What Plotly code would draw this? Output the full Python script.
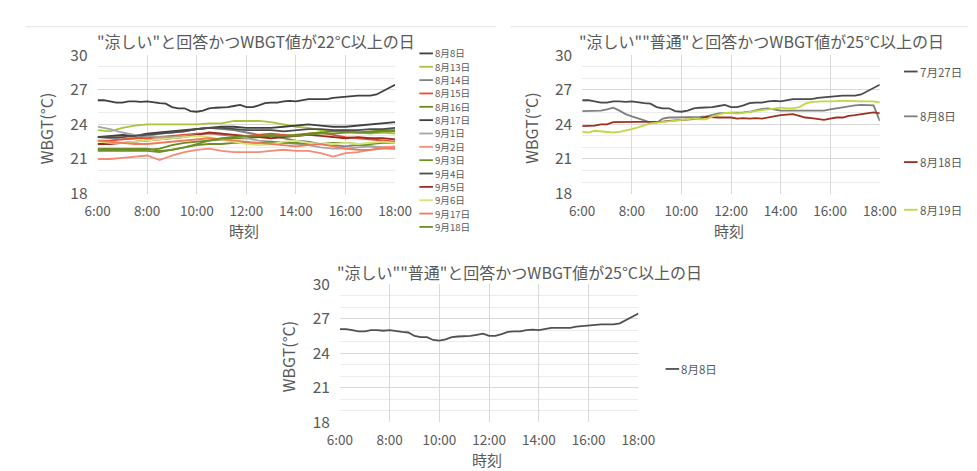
import plotly.graph_objects as go

W, H = 977, 471
FONT = "Noto Sans CJK JP"
TXT = "#595959"

# time grids (hours)
TIMES_15 = [6 + 0.25 * i for i in range(49)]
TIMES_30 = [6 + 0.5 * i for i in range(25)]
X_TICK_VALS = [6, 8, 10, 12, 14, 16, 18]
X_TICK_LABELS = ["6:00", "8:00", "10:00", "12:00", "14:00", "16:00", "18:00"]
Y_TICK_VALS = [18, 21, 24, 27, 30]

TITLE_1 = '"涼しい"と回答かつWBGT値が22°C以上の日'
TITLE_2 = '"涼しい""普通"と回答かつWBGT値が25°C以上の日'
TITLE_3 = '"涼しい""普通"と回答かつWBGT値が25°C以上の日'
Y_TITLE = "WBGT(°C)"
X_TITLE = "時刻"

# ---- 15-minute series ----
WBGT_0808 = [26.1, 26.1, 26.0, 25.9, 25.9, 26.0, 26.0, 25.95, 26.0, 25.9, 25.85, 25.8,
             25.5, 25.4, 25.4, 25.15, 25.1, 25.2, 25.4, 25.45, 25.45, 25.5, 25.6, 25.7,
             25.5, 25.5, 25.65, 25.85, 25.9, 25.9, 26.0, 26.05, 26.0, 26.1, 26.2, 26.2,
             26.2, 26.2, 26.3, 26.35, 26.45, 26.5, 26.5, 26.5, 26.5, 26.6, 26.9, 27.2, 27.45]

C2_0727 = WBGT_0808
C2_0808 = [25.15, 25.15, 25.15, 25.2, 25.3, 25.45, 25.2, 24.9, 24.7, 24.55, 24.35, 24.15,
           24.15, 24.5, 24.6, 24.6, 24.6, 24.6, 24.6, 24.65, 24.7, 24.85, 24.95, 25.0,
           25.0, 25.0, 25.05, 25.1, 25.25, 25.35, 25.4, 25.3, 25.2, 25.2, 25.2, 25.2,
           25.2, 25.2, 25.2, 25.2, 25.3, 25.4, 25.5, 25.6, 25.65, 25.7, 25.7, 25.65, 24.3]
C2_0818 = [23.85, 23.85, 23.9, 24.0, 24.0, 24.2, 24.2, 24.2, 24.25, 24.25, 24.2, 24.2,
           24.25, 24.25, 24.3, 24.35, 24.4, 24.45, 24.5, 24.5, 24.65, 24.6, 24.6, 24.6,
           24.6, 24.5, 24.55, 24.5, 24.55, 24.5, 24.6, 24.75, 24.8, 24.85, 24.9, 24.75,
           24.6, 24.55, 24.45, 24.4, 24.5, 24.6, 24.6, 24.75, 24.8, 24.9, 25.0, 25.05, 24.95]
C2_0819 = [23.35, 23.3, 23.45, 23.4, 23.35, 23.3, 23.35, 23.45, 23.6, 23.75, 23.9, 24.1,
           24.15, 24.2, 24.3, 24.35, 24.4, 24.45, 24.5, 24.45, 24.45, 24.7, 24.85, 25.0,
           25.0, 24.95, 25.0, 25.1, 25.15, 25.25, 25.3, 25.35, 25.45, 25.4, 25.4, 25.5,
           25.8, 25.95, 26.0, 26.0, 26.0, 26.05, 26.05, 26.05, 26.0, 26.0, 26.0, 26.0, 25.9]

# ---- 30-minute series (chart 1) ----
C1_0813 = [23.5, 23.4, 23.7, 23.9, 24.0, 24.0, 24.0, 24.0, 24.0, 24.1, 24.1, 24.3, 24.3,
           24.3, 24.2, 24.0, 23.8, 23.7, 23.5, 23.4, 23.5, 23.3, 23.2, 23.3, 23.2]
C1_0814 = [22.9, 22.8, 22.7, 22.8, 23.0, 23.2, 23.3, 23.4, 23.6, 23.7, 23.6, 23.5, 23.3,
           23.1, 23.0, 22.8, 22.6, 22.5, 22.3, 22.2, 22.1, 22.2, 22.1, 22.0, 21.9]
C1_0815 = [22.6, 22.6, 22.7, 22.8, 22.8, 22.9, 23.0, 23.1, 23.2, 23.2, 23.1, 23.0, 23.0,
           23.1, 23.2, 23.1, 23.0, 23.2, 23.3, 23.1, 22.9, 22.8, 22.7, 22.6, 22.5]
C1_0816 = [21.8, 21.8, 21.8, 21.8, 21.8, 21.9, 22.2, 22.4, 22.5, 22.6, 22.7, 22.8, 22.8,
           22.9, 23.0, 23.0, 23.1, 23.2, 23.3, 23.4, 23.4, 23.3, 23.4, 23.5, 23.5]
C1_0817 = [22.9, 23.0, 23.1, 23.0, 23.2, 23.3, 23.4, 23.5, 23.6, 23.7, 23.8, 23.8, 23.7,
           23.7, 23.7, 23.8, 23.9, 24.0, 23.9, 23.8, 23.8, 23.9, 24.0, 24.1, 24.2]
C1_0901 = [23.8, 23.6, 23.3, 23.1, 23.0, 22.9, 22.9, 23.0, 23.1, 23.2, 23.2, 23.0, 22.8,
           22.6, 22.5, 22.4, 22.3, 22.2, 22.0, 21.9, 21.9, 22.0, 22.1, 22.0, 22.0]
C1_0902 = [21.0, 21.0, 21.1, 21.2, 21.3, 20.9, 21.3, 21.6, 21.8, 21.9, 21.7, 21.6, 21.6,
           21.6, 21.7, 21.8, 21.7, 21.7, 21.5, 21.2, 21.5, 21.6, 21.8, 22.0, 22.1]
C1_0903 = [21.9, 21.9, 21.9, 21.9, 21.9, 21.7, 21.8, 22.0, 22.2, 22.3, 22.3, 22.4, 22.4,
           22.4, 22.5, 22.4, 22.4, 22.3, 22.3, 22.4, 22.4, 22.3, 22.3, 22.4, 22.4]
C1_0904 = [22.9, 22.9, 22.9, 23.0, 23.1, 23.2, 23.3, 23.4, 23.6, 23.7, 23.7, 23.6, 23.5,
           23.5, 23.5, 23.4, 23.5, 23.6, 23.6, 23.5, 23.5, 23.5, 23.6, 23.6, 23.7]
C1_0905 = [22.3, 22.3, 22.4, 22.5, 22.6, 22.7, 22.8, 22.9, 23.1, 23.3, 23.2, 23.1, 23.0,
           22.9, 22.8, 22.9, 23.0, 23.1, 23.0, 22.9, 22.8, 22.9, 22.8, 22.8, 22.7]
C1_0906 = [22.5, 22.4, 22.4, 22.5, 22.6, 22.7, 22.8, 22.9, 23.0, 22.9, 22.7, 22.5, 22.3,
           22.2, 22.3, 22.5, 22.6, 22.4, 22.3, 22.3, 22.4, 22.3, 22.4, 22.5, 22.4]
C1_0917 = [22.6, 22.5, 22.4, 22.3, 22.3, 22.4, 22.5, 22.6, 22.7, 22.8, 22.7, 22.6, 22.5,
           22.4, 22.3, 22.2, 22.1, 22.2, 22.3, 22.1, 21.9, 21.8, 21.8, 21.9, 21.9]
C1_0918 = [21.7, 21.7, 21.7, 21.7, 21.7, 21.6, 21.8, 22.0, 22.3, 22.6, 22.8, 22.9, 23.0,
           23.0, 23.1, 23.0, 23.0, 23.1, 23.2, 23.2, 23.3, 23.3, 23.3, 23.4, 23.4]

CHART1 = [
    ("8月8日", TIMES_15, WBGT_0808, "#404040"),
    ("8月13日", TIMES_30, C1_0813, "#a8c43c"),
    ("8月14日", TIMES_30, C1_0814, "#808080"),
    ("8月15日", TIMES_30, C1_0815, "#e8502a"),
    ("8月16日", TIMES_30, C1_0816, "#6a8a1f"),
    ("8月17日", TIMES_30, C1_0817, "#3f3f3f"),
    ("9月1日", TIMES_30, C1_0901, "#a6a6a6"),
    ("9月2日", TIMES_30, C1_0902, "#f28b78"),
    ("9月3日", TIMES_30, C1_0903, "#6f8f24"),
    ("9月4日", TIMES_30, C1_0904, "#4d4d4d"),
    ("9月5日", TIMES_30, C1_0905, "#9e2a20"),
    ("9月6日", TIMES_30, C1_0906, "#d6e67a"),
    ("9月17日", TIMES_30, C1_0917, "#ef7a5a"),
    ("9月18日", TIMES_30, C1_0918, "#6f8f2a"),
]
CHART2 = [
    ("7月27日", TIMES_15, C2_0727, "#4a4a4a"),
    ("8月8日", TIMES_15, C2_0808, "#7f7f7f"),
    ("8月18日", TIMES_15, C2_0818, "#9e3020"),
    ("8月19日", TIMES_15, C2_0819, "#c2d843"),
]
CHART3 = [
    ("8月8日", TIMES_15, WBGT_0808, "#505050"),
]


def px(x):
    return x / W


def py(y):
    return 1 - y / H


# plot rectangles in pixels: (left, top, right, bottom)
PANELS = [
    dict(rect=(79, 36, 386, 181), title=TITLE_1, tx=242, ty=21, series=CHART1,
         ytx=26, xty=220,
         legend=dict(x=411, ys=[34 + 14 * i for i in range(14)], fs=9.6)),
    dict(rect=(579, 36, 886, 181), title=TITLE_2, tx=764, ty=21, series=CHART2,
         ytx=526, xty=220, legend=dict(x=911, ys=[53, 100, 148, 198], fs=11.5)),
    dict(rect=(329, 276, 637, 421), title=TITLE_3, tx=514, ty=263, series=CHART3,
         ytx=276, xty=460, legend=dict(x=665, ys=[365], fs=11.5)),
]

fig = go.Figure()
shapes = []
annotations = []

for i, p in enumerate(PANELS, start=1):
    l, t, r, b = p["rect"]
    xa = "xaxis" if i == 1 else f"xaxis{i}"
    ya = "yaxis" if i == 1 else f"yaxis{i}"
    xref = "x" if i == 1 else f"x{i}"
    yref = "y" if i == 1 else f"y{i}"
    for name, xs, ys, col in p["series"]:
        fig.add_trace(go.Scatter(x=xs, y=ys, mode="lines", name=name,
                                 line=dict(color=col, width=1.8),
                                 xaxis=xref, yaxis=yref, showlegend=False))
    fig.layout[xa] = dict(domain=[px(l), px(r)], range=[6, 18], anchor=yref,
                          tickvals=X_TICK_VALS, ticktext=X_TICK_LABELS,
                          showgrid=True, gridcolor="#d9d9d9", gridwidth=1,
                          zeroline=False, showline=False, ticks="",
                          ticklabelstandoff=8,
                          tickfont=dict(family=FONT, size=13.5, color=TXT),
                          fixedrange=True)
    fig.layout[ya] = dict(domain=[py(b), py(t)], range=[18, 30], anchor=xref,
                          tickvals=Y_TICK_VALS, showgrid=True, gridcolor="#d9d9d9",
                          gridwidth=1, zeroline=False, showline=False, ticks="",
                          ticklabelstandoff=9,
                          minor=dict(dtick=1, showgrid=True, gridcolor="#ececec", gridwidth=1),
                          tickfont=dict(family=FONT, size=15.5, color=TXT),
                          fixedrange=True)
    # title
    annotations.append(dict(text=p["title"], x=px(p["tx"]), y=py(p["ty"]),
                            xref="paper", yref="paper", xanchor="center", yanchor="middle",
                            showarrow=False, font=dict(family=FONT, size=16, color=TXT)))
    # axis titles
    annotations.append(dict(text=Y_TITLE, x=px(p["ytx"]), y=py((t + b) / 2 + 4),
                            xref="paper", yref="paper", xanchor="center", yanchor="middle",
                            textangle=-90, showarrow=False,
                            font=dict(family=FONT, size=16, color=TXT)))
    annotations.append(dict(text=X_TITLE, x=px((l + r) / 2 - 2), y=py(p["xty"]),
                            xref="paper", yref="paper", xanchor="center", yanchor="middle",
                            showarrow=False, font=dict(family=FONT, size=15, color=TXT)))
    # manual legend: coloured dashes + grey labels
    lg = p["legend"]
    lx = lg["x"]
    for (name, xs, ys, col), ly in zip(p["series"], lg["ys"]):
        shapes.append(dict(type="line", xref="paper", yref="paper",
                           x0=px(lx), x1=px(lx + 14), y0=py(ly), y1=py(ly),
                           line=dict(color=col, width=1.8)))
        annotations.append(dict(text=name, x=px(lx + 15), y=py(ly),
                                xref="paper", yref="paper",
                                xanchor="left", yanchor="middle", showarrow=False,
                                borderpad=0,
                                font=dict(family=FONT, size=lg["fs"], color=TXT)))

# faint chart-frame top borders
shapes.append(dict(type="line", xref="paper", yref="paper", x0=px(5), x1=px(490),
                   y0=py(6), y1=py(6), line=dict(color="#e3e3e3", width=1)))
shapes.append(dict(type="line", xref="paper", yref="paper", x0=px(505), x1=px(977),
                   y0=py(6), y1=py(6), line=dict(color="#e3e3e3", width=1)))

fig.update_layout(width=W, height=H, margin=dict(l=0, r=0, t=0, b=0),
                  paper_bgcolor="white", plot_bgcolor="white",
                  shapes=shapes, annotations=annotations, showlegend=False,
                  font=dict(family=FONT, color=TXT))

fig.write_html("out.html", config={"displayModeBar": False})
